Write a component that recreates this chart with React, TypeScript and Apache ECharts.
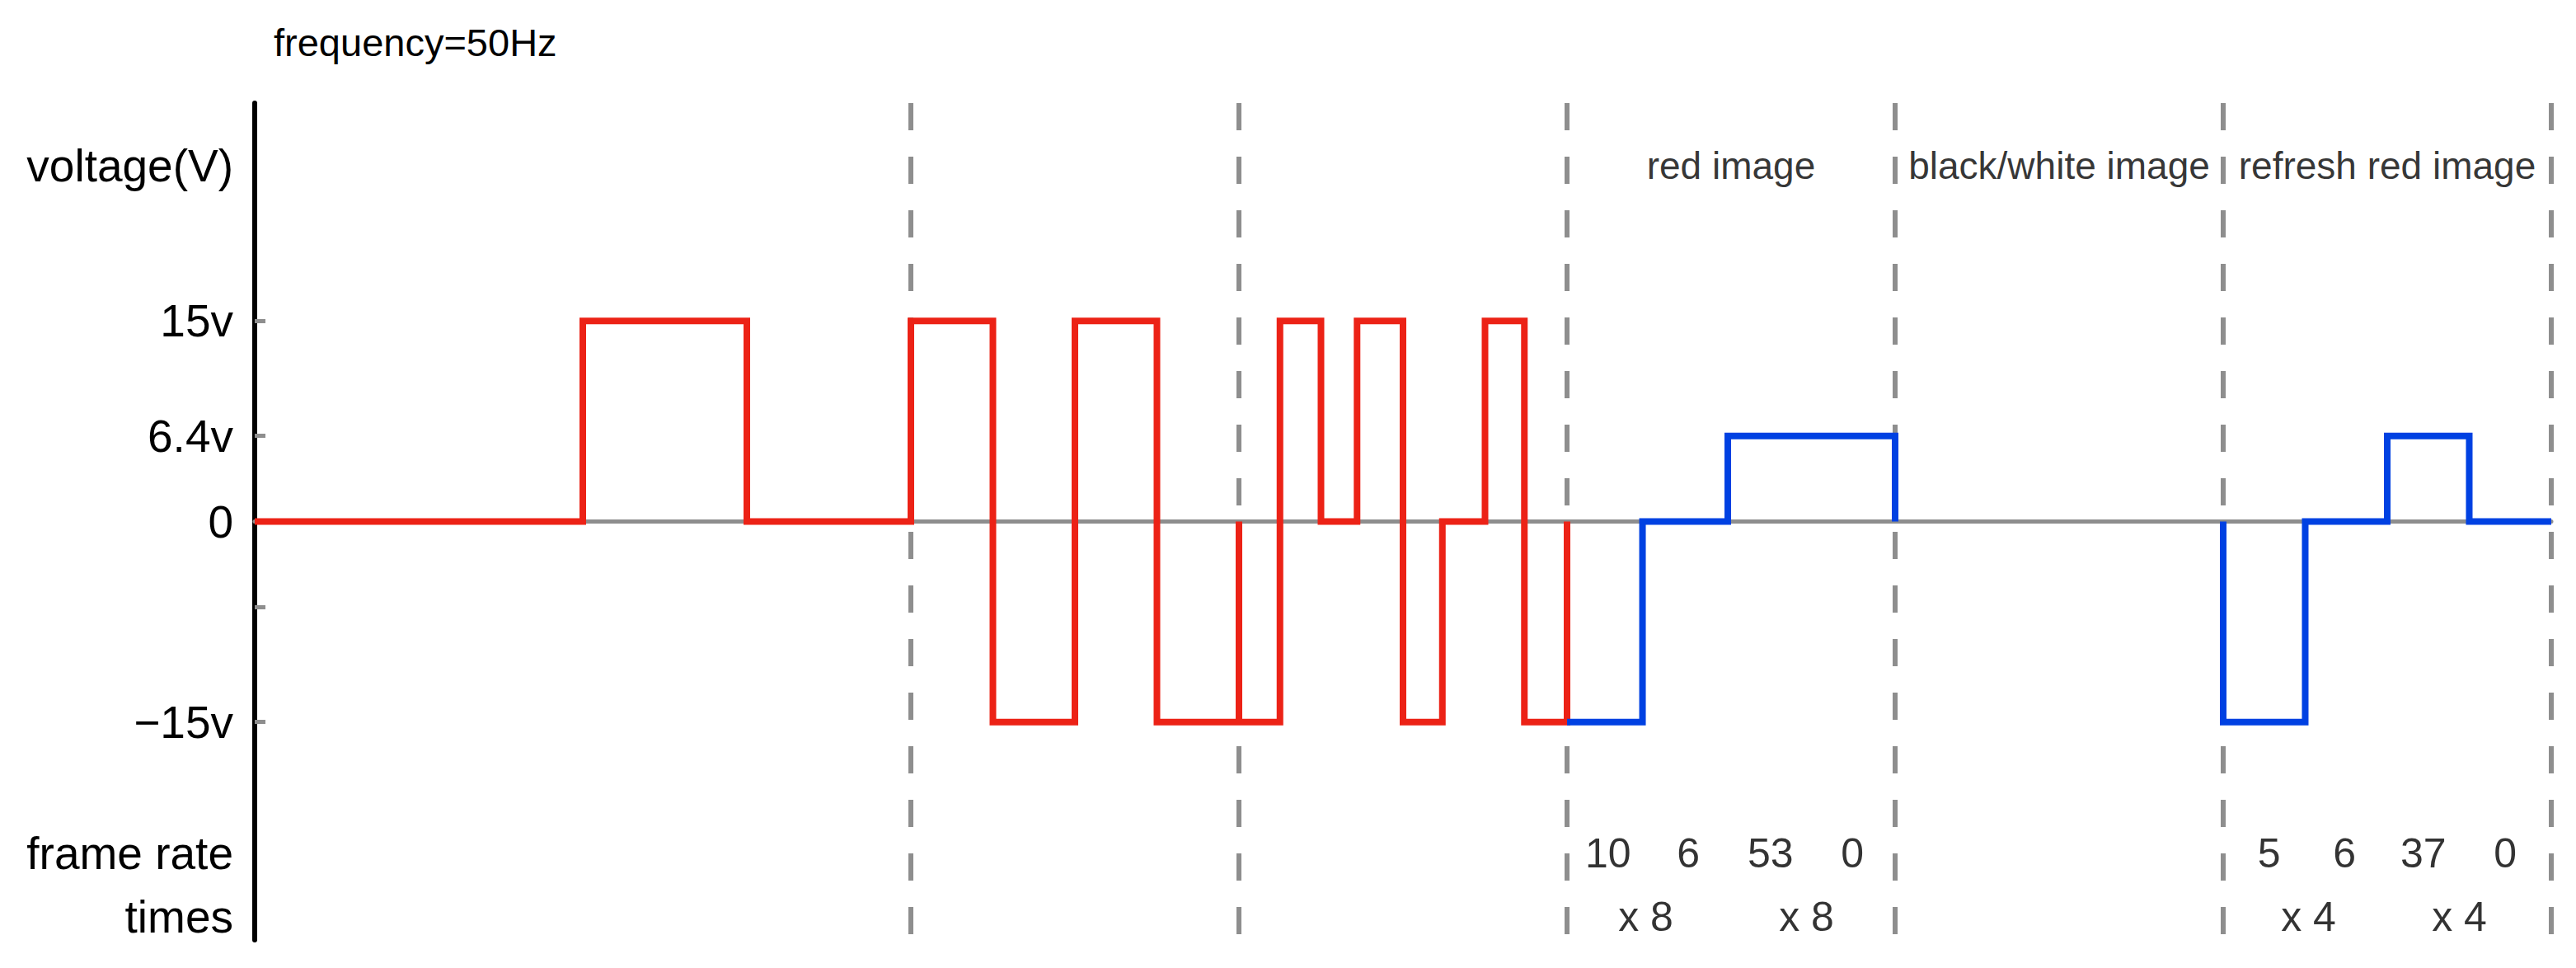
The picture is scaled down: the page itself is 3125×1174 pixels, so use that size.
import { useEffect, useRef } from "react";
import * as echarts from "echarts";

// ---- data (x in frame-slot units, y in volts) ----
const redTimes = [0, 1, 1.5, 2, 2.25, 2.5, 2.75, 3, 3, 3.125, 3.25, 3.36, 3.5, 3.62, 3.75, 3.87, 4];
const redLevels = [0, 15, 0, 15, -15, 15, -15, 0, -15, 15, 0, 15, -15, 0, 15, -15, 0];

const blueTimesA = [4, 4.23, 4.49, 5];
const blueLevelsA = [-15, 0, 6.4, 0];

const blueTimesB = [6, 6, 6.25, 6.5, 6.75, 7];
const blueLevelsB = [0, -15, 0, 6.4, 0, 0];

const dividerX = [2, 3, 4, 5, 6, 7];

const sectionNames = ["red image", "black/white image", "refresh red image"];
const sectionX = [4.5, 5.5, 6.5];

const frameRates = ["10", "6", "53", "0", "5", "6", "37", "0"];
const frameRateX = [4.125, 4.37, 4.62, 4.87, 6.14, 6.37, 6.61, 6.86];

const timesLabels = ["x 8", "x 8", "x 4", "x 4"];
const timesX = [4.24, 4.73, 6.26, 6.72];

const yTickValues = [15, 6.4, 0, -6.4, -15];
const yLabelValues = [26.6, 15, 6.4, 0, -15, -24.8, -29.6];
const yLabelTexts = ["voltage(V)", "15v", "6.4v", "0", "\u221215v", "frame rate", "times"];

const ROW_TITLE_Y = 26.6;
const ROW_FRAME_Y = -24.8;
const ROW_TIMES_Y = -29.6;

const Y_MIN = -31.3;
const Y_MAX = 31.3;
const X_MIN = 0;
const X_MAX = 7;

const FONT = "'Liberation Sans', Arial, Helvetica, sans-serif";
const GRAY = "#8e8e8e";
const RED = "#ec2216";
const BLUE = "#0041e2";

const zip = (xs: number[], ys: number[]) => xs.map((x, i) => [x, ys[i]]);

export default function App() {
  const ref = useRef<HTMLDivElement>(null);

  useEffect(() => {
    document.body.style.margin = "0";
    if (!ref.current) return;
    const chart = echarts.init(ref.current, undefined, { renderer: "svg" });

    const labelMap: Record<string, string> = {};
    yLabelValues.forEach((v, i) => {
      labelMap[v.toFixed(2)] = yLabelTexts[i];
    });

    const textSeries = (name: string, xs: number[], y: number, texts: string[], size: number) => ({
      name,
      type: "scatter",
      z: 4,
      symbolSize: 1,
      itemStyle: { color: "rgba(0,0,0,0)" },
      silent: true,
      data: xs.map((x, i) => [x, y, texts[i]]),
      label: {
        show: true,
        position: "inside",
        align: "center",
        verticalAlign: "middle",
        fontSize: size,
        fontFamily: FONT,
        color: "#000",
        textBorderWidth: 0,
        textBorderColor: "transparent",
        formatter: (p: any) => p.data[2],
      },
    });

    const lineStyle = (color: string) => ({ color, width: 8, cap: "butt", join: "miter" });

    chart.setOption({
      animation: false,
      backgroundColor: "#fff",
      grid: { left: 309, right: 30, top: 125, bottom: 34, containLabel: false },
      graphic: [
        {
          type: "text",
          left: 332,
          top: 28,
          style: { text: "frequency=50Hz", fontSize: 47, fontFamily: FONT, fill: "#000" },
        },
      ],
      xAxis: {
        type: "value",
        min: X_MIN,
        max: X_MAX,
        axisLine: { show: true, onZero: true, lineStyle: { color: GRAY, width: 5 } },
        axisTick: { show: false },
        axisLabel: { show: false },
        splitLine: { show: false },
      },
      yAxis: {
        type: "value",
        min: Y_MIN,
        max: Y_MAX,
        axisLine: { show: true, onZero: false, lineStyle: { color: "#000", width: 6 } },
        axisTick: {
          show: true,
          inside: true,
          length: 13,
          customValues: yTickValues,
          lineStyle: { color: GRAY, width: 5 },
        },
        axisLabel: {
          show: true,
          customValues: yLabelValues,
          margin: 26,
          fontSize: 55,
          fontFamily: FONT,
          color: "#000",
          formatter: (v: number) => labelMap[v.toFixed(2)] ?? "",
        },
        splitLine: { show: false },
      },
      series: [
        {
          name: "dividers",
          type: "line",
          z: 1,
          data: [],
          silent: true,
          markLine: {
            z: 1,
            silent: true,
            symbol: ["none", "none"],
            label: { show: false },
            lineStyle: { color: GRAY, width: 6, type: [33, 32] },
            data: dividerX.map((x) => [{ coord: [x, Y_MAX] }, { coord: [x, Y_MIN] }]),
          },
        },
        {
          name: "red",
          type: "line",
          z: 3,
          step: "end",
          showSymbol: false,
          symbol: "none",
          data: zip(redTimes, redLevels),
          lineStyle: lineStyle(RED),
        },
        {
          name: "blueA",
          type: "line",
          z: 3,
          step: "end",
          showSymbol: false,
          symbol: "none",
          data: zip(blueTimesA, blueLevelsA),
          lineStyle: lineStyle(BLUE),
        },
        {
          name: "blueB",
          type: "line",
          z: 3,
          step: "end",
          showSymbol: false,
          symbol: "none",
          data: zip(blueTimesB, blueLevelsB),
          lineStyle: lineStyle(BLUE),
        },
        textSeries("sections", sectionX, ROW_TITLE_Y, sectionNames, 46),
        textSeries("frameRates", frameRateX, ROW_FRAME_Y, frameRates, 50),
        textSeries("times", timesX, ROW_TIMES_Y, timesLabels, 50),
      ],
    });

    return () => chart.dispose();
  }, []);

  return <div ref={ref} style={{ width: 3125, height: 1174 }} />;
}
